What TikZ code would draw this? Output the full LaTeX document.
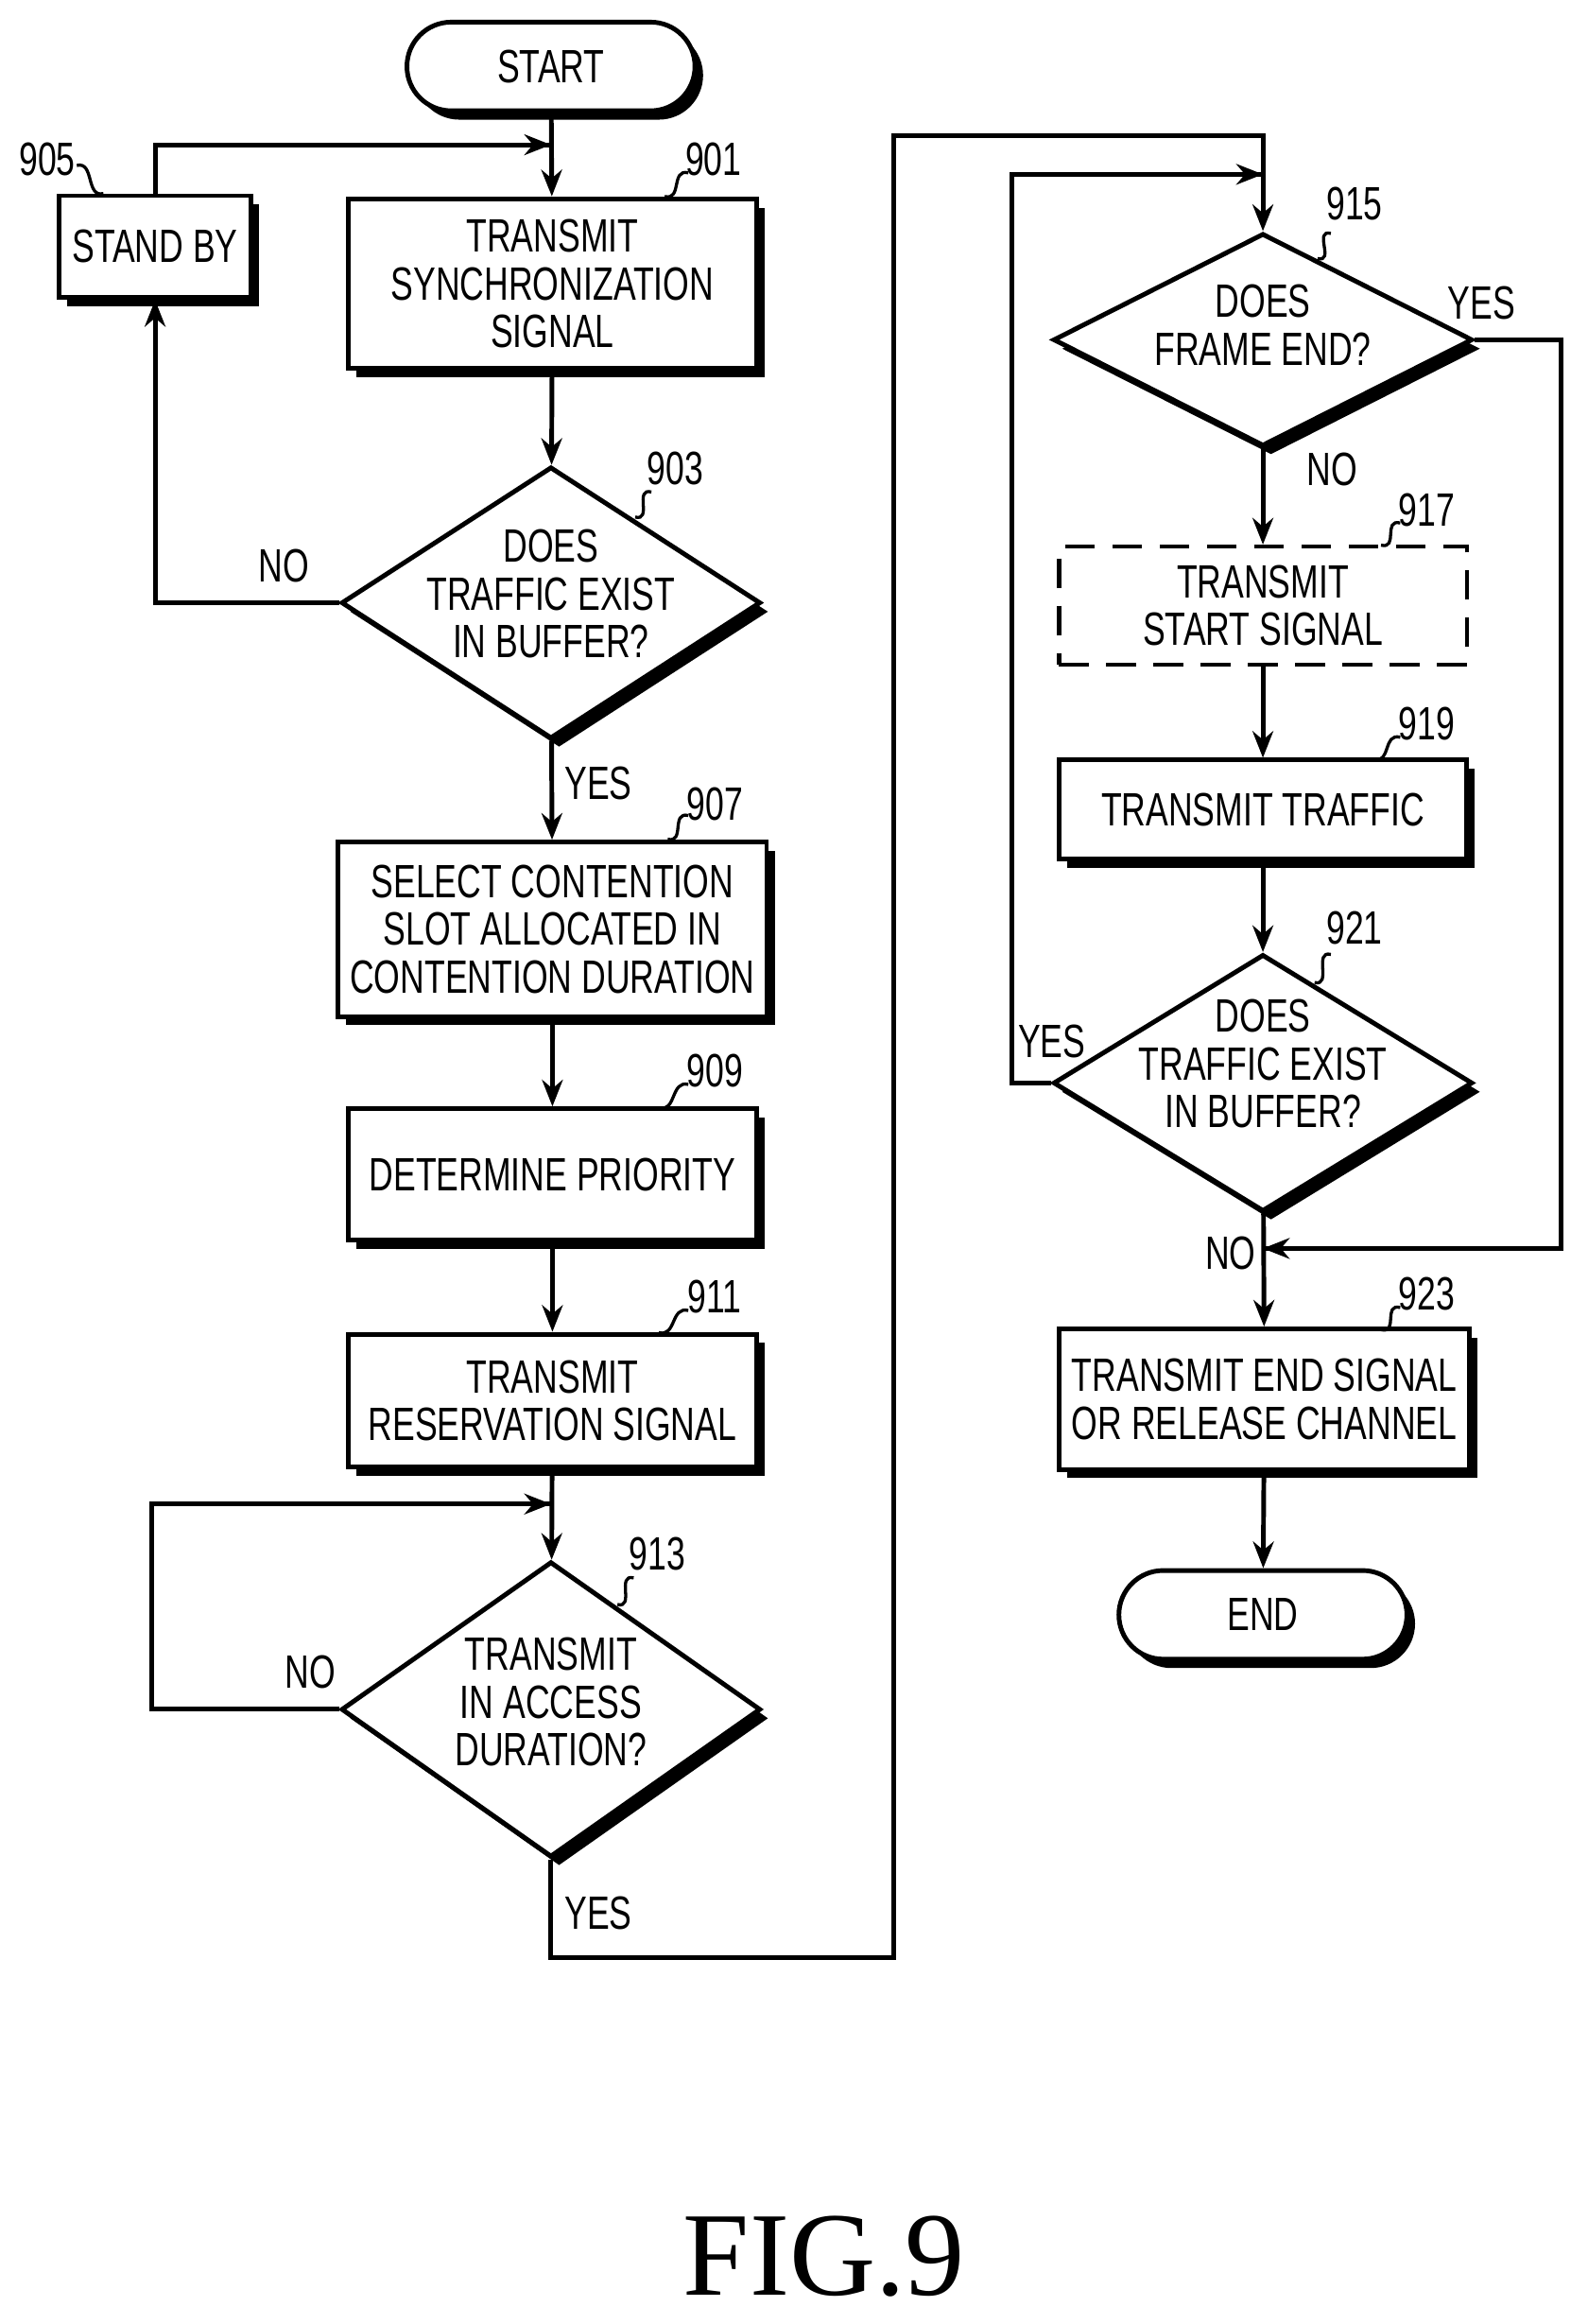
\documentclass[tikz,border=0pt]{standalone}
\usepackage{fontspec}
\setmainfont{Liberation Sans}[FakeStretch=0.72]
\newfontfamily\figfont{Liberation Serif}
\usetikzlibrary{shapes.geometric,shadows,arrows.meta}
\begin{document}
\begin{tikzpicture}[x=0.1mm,y=-0.1mm,
  every node/.style={font=\fontsize{9}{9.2}\selectfont, align=center},
  sh/.style={drop shadow={shadow xshift=0.55mm,shadow yshift=-0.6mm,fill=black,opacity=1}},
  box/.style={draw,line width=0.9pt,fill=white,sh,inner sep=0},
  term/.style={draw,line width=0.9pt,fill=white,sh,rounded corners=3mm,minimum width=19.5mm,minimum height=6mm},
  dia/.style={draw,diamond,line width=0.9pt,fill=white,sh,inner sep=0,minimum width=28.4mm},
  ln/.style={line width=0.9pt},
  ar/.style={line width=0.9pt,-{Stealth[length=1.8mm,width=1.4mm]}},
  sq/.style={line width=0.6pt}]
\useasboundingbox (0,0) rectangle (1075,1573);
\newcommand\sqg[4]{\draw[sq] (#1,#2) .. controls +(-12,-3) and +(12,3) .. (#3,#4);}
% nodes
\node[term] (start) at (373,45) {START};
\node[box,minimum width=27.6mm,minimum height=11.5mm] (b901) at (374,192) {TRANSMIT\\SYNCHRONIZATION\\SIGNAL};
\node[box,minimum width=13mm,minimum height=6.9mm] (sb) at (105,167) {STAND BY};
\node[dia,minimum height=18.4mm] (d903) at (373,408) {};
\node at (373,402) {DOES\\TRAFFIC EXIST\\IN BUFFER?};
\node[box,minimum width=29mm,minimum height=11.8mm] (b907) at (374,629) {SELECT CONTENTION\\SLOT ALLOCATED IN\\CONTENTION DURATION};
\node[box,minimum width=27.6mm,minimum height=8.9mm] (b909) at (374,795) {DETERMINE PRIORITY};
\node[box,minimum width=27.6mm,minimum height=9mm] (b911) at (374,948) {TRANSMIT\\RESERVATION SIGNAL};
\node[dia,minimum height=20mm] (d913) at (373,1157) {};
\node at (373,1152) {TRANSMIT\\IN ACCESS\\DURATION?};
\node[dia,minimum height=14.4mm] (d915) at (855,230) {};
\node at (855,220) {DOES\\FRAME END?};
\node[draw,line width=0.8pt,dashed,dash pattern=on 2mm off 1.2mm,minimum width=27.6mm,minimum height=8mm,inner sep=0] (b917) at (855,410) {TRANSMIT\\START SIGNAL};
\node[box,minimum width=27.6mm,minimum height=6.7mm] (b919) at (855,548) {TRANSMIT TRAFFIC};
\node[dia,minimum height=17.4mm] (d921) at (855,733) {};
\node at (855,720) {DOES\\TRAFFIC EXIST\\IN BUFFER?};
\node[box,minimum width=27.8mm,minimum height=9.5mm] (b923) at (856,947) {TRANSMIT END SIGNAL\\OR RELEASE CHANNEL};
\node[term] (end) at (855,1093) {END};
% labels
\node (l901) at (483,108) {901}; \sqg{466}{117}{450}{133}
\node (l905) at (32,108) {905}; \draw[sq] (52,112) .. controls +(12,-3) and +(-12,3) .. (70,131);
\node (l903) at (457,317) {903}; \sqg{441}{333}{430}{350}
\node (l907) at (484,544) {907}; \sqg{466}{552}{452}{568}
\node (l909) at (484,725) {909}; \sqg{466}{734}{446}{750}
\node (l911) at (484,878) {911}; \sqg{466}{887}{446}{902}
\node (l913) at (445,1052) {913}; \sqg{429}{1068}{418}{1086}
\node (l915) at (917,138) {915}; \sqg{901}{158}{892}{175}
\node (l917) at (966,345) {917}; \sqg{948}{354}{935}{369}
\node (l919) at (966,490) {919}; \sqg{948}{499}{930}{514}
\node (l921) at (917,628) {921}; \sqg{901}{646}{890}{665}
\node (l923) at (966,876) {923}; \sqg{948}{885}{935}{900}
% text labels
\node (n903) at (192,383) {NO};
\node (y903) at (405,530) {YES};
\node (n913) at (210,1132) {NO};
\node (y913) at (405,1295) {YES};
\node (y915) at (1003,205) {YES};
\node (n915) at (902,318) {NO};
\node (y921) at (712,705) {YES};
\node (n921) at (833,848) {NO};
\node[font=\figfont\fontsize{23}{23}\selectfont] (fig) at (558,1527) {FIG.9};
% coordinates
\coordinate (j1) at (373,98);
\coordinate (j2) at (373,1018);
\coordinate (j3) at (855,118);
\coordinate (j4) at (855,845);
% connectors
\draw[ar] (start) -- (b901);
\draw[ln] (sb.north) |- (j1);
\draw[ar] (330,98) -- (j1);
\draw[ar] (b901) -- (d903);
\draw[ar] (d903.west) -| (sb.south);
\draw[ar] (d903) -- (b907);
\draw[ar] (b907) -- (b909);
\draw[ar] (b909) -- (b911);
\draw[ar] (b911) -- (d913);
\draw[ln] (d913.west) -- (103,1157) |- (j2);
\draw[ar] (330,1018) -- (j2);
\draw[ar] (d913.south) -- (373,1325) -- (605,1325) -- (605,92) -- (855,92) -- (d915.north);
\draw[ar] (d915) -- (b917);
\draw[ar] (b917) -- (b919);
\draw[ar] (b919) -- (d921);
\draw[ln] (d921.west) -- (685,733) |- (j3);
\draw[ar] (810,118) -- (j3);
\draw[ln] (d915.east) -- (1057,230) |- (j4);
\draw[ar] (900,845) -- (j4);
\draw[ar] (d921) -- (b923);
\draw[ar] (b923) -- (end);
\end{tikzpicture}
\end{document}
